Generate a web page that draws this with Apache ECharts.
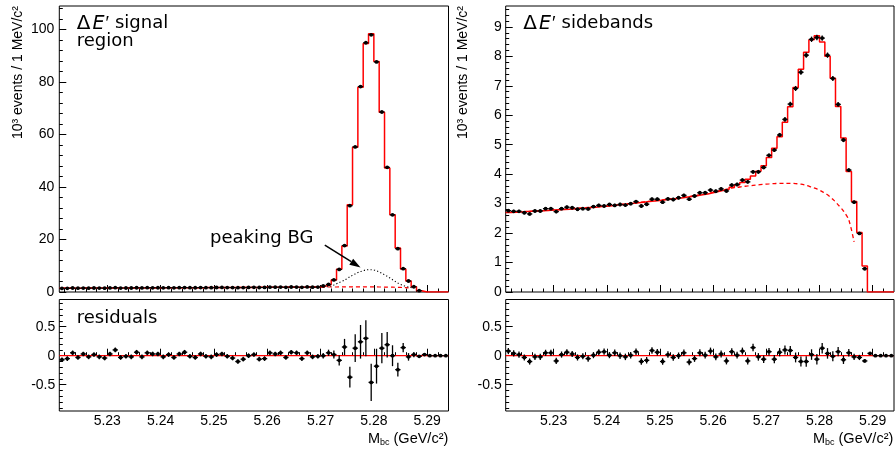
<!DOCTYPE html>
<html><head><meta charset="utf-8">
<script src="https://cdn.jsdelivr.net/npm/echarts@6.0.0/dist/echarts.min.js"></script>
<style>html,body{margin:0;padding:0;background:#fff}#c{width:895px;height:449px}</style>
</head><body><div id="c"></div>
<script>
// ---------------- data (10^3 events per 1 MeV bin) ----------------
const binLow = 5.221, binWidth = 0.001, nBins = 73;
const xTickValues = [5.23, 5.24, 5.25, 5.26, 5.27, 5.28, 5.29];
const sigYTicks = [0, 20, 40, 60, 80, 100];
const sbYTicks = [0, 1, 2, 3, 4, 5, 6, 7, 8, 9];
const resYTicks = [-0.5, 0, 0.5];

// ΔE' signal region
const sigData = [1.38,1.41,1.52,1.44,1.51,1.47,1.52,1.48,1.47,1.55,
  1.63,1.51,1.53,1.53,1.62,1.55,1.63,1.61,1.62,1.58,
  1.63,1.59,1.65,1.69,1.63,1.62,1.69,1.66,1.66,1.71,
  1.73,1.70,1.68,1.64,1.68,1.75,1.79,1.71,1.73,1.85,
  1.84,1.87,1.79,1.91,1.89,1.80,1.92,1.85,1.88,2.30,
  2.90,4.60,8.60,17.7,32.9,55.3,78.3,95.0,98.0,87.7,
  68.6,47.5,29.4,16.5,8.9,4.2,2.0,0.5,null,null,
  null,null,null];
const sigErr = [0.04,0.04,0.04,0.04,0.04,0.04,0.04,0.04,0.04,0.04,
  0.04,0.04,0.04,0.04,0.04,0.04,0.04,0.04,0.04,0.04,
  0.04,0.04,0.04,0.04,0.04,0.04,0.04,0.04,0.04,0.04,
  0.04,0.04,0.04,0.04,0.04,0.04,0.04,0.04,0.04,0.04,
  0.04,0.04,0.04,0.04,0.04,0.04,0.04,0.04,0.04,0.048,
  0.054,0.068,0.09,0.14,0.18,0.24,0.29,0.31,0.32,0.30,
  0.26,0.22,0.18,0.12,0.08,0.065,0.045,0.022,0,0,
  0,0,0];
const sigFit = [1.45,1.46,1.47,1.47,1.48,1.49,1.50,1.50,1.51,1.52,
  1.53,1.54,1.54,1.55,1.56,1.57,1.58,1.58,1.59,1.60,
  1.61,1.62,1.62,1.63,1.64,1.65,1.66,1.67,1.68,1.69,
  1.70,1.71,1.72,1.73,1.74,1.75,1.76,1.77,1.78,1.79,
  1.80,1.81,1.82,1.83,1.84,1.85,1.86,1.87,1.88,2.29,
  2.84,4.57,8.67,17.54,33.26,55.16,78.05,94.70,98.46,87.88,
  68.46,47.29,29.40,16.73,8.74,4.22,1.98,0.51,0,0,
  0,0,0];
const sigBkg = [1.45,1.46,1.47,1.47,1.48,1.49,1.50,1.50,1.51,1.52,
  1.53,1.54,1.54,1.55,1.56,1.57,1.58,1.58,1.59,1.60,
  1.61,1.62,1.62,1.63,1.64,1.65,1.66,1.67,1.68,1.69,
  1.70,1.71,1.72,1.73,1.74,1.75,1.76,1.77,1.78,1.79,
  1.80,1.81,1.82,1.83,1.84,1.85,1.86,1.87,1.88,1.89,
  1.90,1.91,1.92,1.93,1.93,1.94,1.94,1.94,1.93,1.92,
  1.90,1.87,1.83,1.77,1.70,1.60];
const sigPeakingFirstBin = 49;
const sigPeakingBG = [1.9,2.1,2.7,3.6,4.5,5.8,6.9,7.8,8.4,8.5,8.1,7.1,6.0,4.7,3.4,2.5,1.9,1.5];
const sigResid = [-0.07,-0.05,0.05,-0.03,0.03,-0.02,0.02,-0.02,-0.04,0.03,
  0.10,-0.03,-0.01,-0.02,0.06,-0.02,0.05,0.03,0.03,-0.02,
  0.02,-0.03,0.03,0.06,-0.01,-0.03,0.03,-0.01,-0.02,0.02,
  0.03,-0.01,-0.04,-0.10,-0.06,0.00,0.02,-0.06,-0.05,0.05,
  0.03,0.05,-0.03,0.06,0.05,-0.05,0.05,-0.02,-0.01,0.00,
  0.05,0.02,-0.08,0.15,-0.37,0.13,0.24,0.30,-0.46,-0.18,
  0.13,0.19,0.00,-0.24,0.14,-0.02,0.02,-0.01,0.02,0.00,
  0.00,0.00,0.00];

// ΔE' sidebands
const sbData = [2.76,2.74,2.74,2.69,2.65,2.75,2.75,2.83,2.83,2.73,
  2.83,2.88,2.86,2.81,2.83,2.82,2.90,2.94,2.92,2.97,
  2.94,2.97,2.95,3.00,3.07,2.92,2.98,3.15,3.15,3.05,
  3.16,3.14,3.20,3.28,3.15,3.26,3.37,3.37,3.46,3.42,
  3.50,3.43,3.63,3.65,3.80,3.74,4.08,4.08,4.23,4.64,
  4.82,5.33,5.86,6.38,6.91,7.46,8.04,8.58,8.64,8.62,
  8.04,7.25,6.37,5.16,4.14,3.05,1.99,0.79,null,null,
  null,null,null];
const sbErr = [0.053,0.053,0.053,0.053,0.053,0.053,0.053,0.053,0.053,0.053,
  0.053,0.053,0.053,0.053,0.053,0.053,0.053,0.053,0.053,0.053,
  0.056,0.056,0.056,0.056,0.056,0.056,0.056,0.056,0.056,0.056,
  0.056,0.056,0.056,0.056,0.056,0.056,0.06,0.06,0.06,0.06,
  0.06,0.06,0.06,0.06,0.06,0.06,0.065,0.065,0.065,0.065,
  0.071,0.071,0.078,0.078,0.085,0.085,0.091,0.091,0.091,0.091,
  0.091,0.085,0.08,0.072,0.064,0.055,0.045,0.028,0,0,
  0,0,0];
const sbFit = [2.70,2.71,2.72,2.73,2.74,2.75,2.76,2.77,2.78,2.79,
  2.80,2.81,2.83,2.84,2.85,2.87,2.88,2.90,2.91,2.93,
  2.95,2.97,2.99,3.01,3.03,3.05,3.07,3.09,3.11,3.13,
  3.15,3.17,3.19,3.22,3.24,3.27,3.30,3.33,3.37,3.41,
  3.45,3.49,3.56,3.64,3.72,3.83,3.94,4.10,4.29,4.57,
  4.88,5.27,5.76,6.29,6.94,7.56,8.14,8.56,8.70,8.49,
  8.00,7.26,6.30,5.23,4.09,3.07,2.02,0.88,0,0,
  0,0,0];
const sbBkg = [2.70,2.71,2.72,2.73,2.74,2.75,2.76,2.77,2.78,2.79,
  2.80,2.81,2.83,2.84,2.85,2.87,2.88,2.90,2.91,2.93,
  2.95,2.97,2.99,3.01,3.03,3.05,3.07,3.09,3.11,3.13,
  3.15,3.17,3.19,3.22,3.24,3.27,3.30,3.33,3.37,3.41,
  3.45,3.49,3.53,3.55,3.58,3.60,3.62,3.64,3.66,3.67,
  3.68,3.69,3.69,3.69,3.68,3.66,3.62,3.56,3.50,3.41,
  3.30,3.15,2.96,2.75,2.45,1.70];
const sbResid = [0.08,0.04,0.02,-0.03,-0.10,-0.02,-0.02,0.05,0.05,-0.09,
  0.02,0.06,0.03,-0.03,-0.01,-0.05,0.01,0.06,0.07,0.01,
  0.05,0.00,-0.02,0.01,0.07,-0.10,-0.08,0.09,0.06,-0.10,
  0.02,-0.03,0.00,0.05,-0.11,-0.05,0.05,0.01,0.08,-0.02,
  0.03,-0.09,0.07,0.01,0.08,-0.09,0.14,-0.02,-0.06,0.07,
  -0.06,0.06,0.10,0.09,-0.03,-0.10,-0.10,0.02,-0.06,0.13,
  0.04,-0.01,0.07,-0.07,0.05,-0.02,-0.03,-0.09,0.04,0.00,
  0.00,0.00,0.00];

// ---------------- helpers ----------------
const FONT = '"Liberation Sans", Arial, sans-serif';
const X_MIN = binLow, X_MAX = +(binLow + nBins * binWidth).toFixed(4);
const centers = Array.from({length: nBins}, (_, i) => +(binLow + (i + 0.5) * binWidth).toFixed(4));
const edges = Array.from({length: nBins + 1}, (_, i) => +(binLow + i * binWidth).toFixed(4));

const xMinor = []; for (let k = 5222; k < 5294; k += 2) if (k % 10) xMinor.push(k / 1000);
const sigYMinor = []; for (let v = 4; v < 109; v += 4) if (v % 20) sigYMinor.push(v);
const sbYMinor = []; for (let k = 1; k < 49; k++) if (k % 5) sbYMinor.push(k / 5);
const resYMinor = []; for (let k = -9; k <= 9; k++) if (k % 5) resYMinor.push(k / 10);

const grids = [
  {left: 59.3, top: 6, width: 389.2, height: 286},
  {left: 505.7, top: 6, width: 388.3, height: 286},
  {left: 59.3, top: 299.5, width: 389.2, height: 111.5},
  {left: 505.7, top: 299.5, width: 388.3, height: 111.5}
].map(g => Object.assign(g, {show: true, borderColor: '#000', borderWidth: 1, backgroundColor: 'transparent', containLabel: false, outerBoundsMode: 'none'}));

function xAxisMain(g, showLabel) {
  return {gridIndex: g, type: 'value', min: X_MIN, max: X_MAX, position: 'bottom',
    axisLine: {show: false}, splitLine: {show: false},
    axisTick: {show: true, inside: true, length: 7, customValues: xTickValues, lineStyle: {color: '#000', width: 1}},
    axisLabel: {show: showLabel, customValues: xTickValues, margin: 3, fontSize: 14, fontFamily: FONT, color: '#000',
      formatter: v => v.toFixed(2)}};
}
function xAxisMinor(g) {
  return {gridIndex: g, type: 'value', min: X_MIN, max: X_MAX, position: 'bottom',
    axisLine: {show: false}, splitLine: {show: false},
    axisTick: {show: true, inside: true, length: 3.5, customValues: xMinor, lineStyle: {color: '#000', width: 1}},
    axisLabel: {show: false, customValues: xMinor}};
}
function yAxisMain(g, min, max, ticks, margin) {
  return {gridIndex: g, type: 'value', min, max, position: 'left',
    axisLine: {show: false}, splitLine: {show: false},
    axisTick: {show: true, inside: true, length: 7, customValues: ticks, lineStyle: {color: '#000', width: 1}},
    axisLabel: {show: true, customValues: ticks, margin, fontSize: 14, fontFamily: FONT, color: '#000',
      formatter: v => String(v)}};
}
function yAxisMinor(g, min, max, ticks) {
  return {gridIndex: g, type: 'value', min, max, position: 'left',
    axisLine: {show: false}, splitLine: {show: false},
    axisTick: {show: true, inside: true, length: 3.5, customValues: ticks, lineStyle: {color: '#000', width: 1}},
    axisLabel: {show: false, customValues: ticks}};
}

function pointSeries(ax, vals, errs) {
  const data = [];
  vals.forEach((v, i) => { if (v !== null) data.push([centers[i], v, errs[i]]); });
  return {type: 'custom', xAxisIndex: ax, yAxisIndex: ax, data, z: 6, clip: false,
    renderItem(params, api) {
      const x = api.value(0), y = api.value(1), e = api.value(2);
      const c = api.coord([x, y]);
      const t = api.coord([x, y + e]), b = api.coord([x, y - e]);
      const l = api.coord([x - binWidth / 2, y]), r = api.coord([x + binWidth / 2, y]);
      const st = {stroke: '#000', lineWidth: 1.3};
      return {type: 'group', children: [
        {type: 'line', shape: {x1: c[0], y1: t[1], x2: c[0], y2: b[1]}, style: st},
        {type: 'line', shape: {x1: l[0], y1: c[1], x2: r[0], y2: c[1]}, style: st},
        {type: 'circle', shape: {cx: c[0], cy: c[1], r: 1.9}, style: {fill: '#000'}}
      ]};
    }};
}
function stepSeries(ax, vals) {
  const data = vals.map((v, i) => [edges[i], v]);
  data.push([edges[nBins], vals[nBins - 1]]);
  return {type: 'line', xAxisIndex: ax, yAxisIndex: ax, data, step: 'end', symbol: 'none', z: 4,
    lineStyle: {color: '#ff0000', width: 1.5}, animation: false};
}
function curveSeries(ax, vals, firstBin, style) {
  const data = vals.map((v, i) => [centers[firstBin + i], v]);
  return {type: 'line', xAxisIndex: ax, yAxisIndex: ax, data, symbol: 'none', smooth: 0.3, z: 3,
    lineStyle: style, animation: false};
}
function zeroLine(ax) {
  return {type: 'line', xAxisIndex: ax, yAxisIndex: ax, data: [[X_MIN, 0], [X_MAX, 0]], symbol: 'none', z: 3,
    lineStyle: {color: '#ff0000', width: 1.2}, animation: false};
}

const option = {
  animation: false,
  grid: grids,
  xAxis: [xAxisMain(0, false), xAxisMain(1, false), xAxisMain(2, true), xAxisMain(3, true),
          xAxisMinor(0), xAxisMinor(1), xAxisMinor(2), xAxisMinor(3)],
  yAxis: [yAxisMain(0, 0, 109, sigYTicks, 5), yAxisMain(1, 0, 9.71, sbYTicks, 4),
          yAxisMain(2, -0.953, 0.969, resYTicks, 4), yAxisMain(3, -0.953, 0.969, resYTicks, 4),
          yAxisMinor(0, 0, 109, sigYMinor), yAxisMinor(1, 0, 9.71, sbYMinor),
          yAxisMinor(2, -0.953, 0.969, resYMinor), yAxisMinor(3, -0.953, 0.969, resYMinor)],
  series: [
    curveSeries(0, sigBkg, 0, {color: '#ff0000', width: 1.2, type: [4, 3]}),
    curveSeries(0, sigPeakingBG, sigPeakingFirstBin, {color: '#000', width: 1.1, type: [1.2, 2.2]}),
    stepSeries(0, sigFit),
    pointSeries(0, sigData, sigErr),
    curveSeries(1, sbBkg, 0, {color: '#ff0000', width: 1.3, type: [4, 3]}),
    stepSeries(1, sbFit),
    pointSeries(1, sbData, sbErr),
    zeroLine(2),
    pointSeries(2, sigResid, sigErr),
    zeroLine(3),
    pointSeries(3, sbResid, sbErr)
  ]
};

const chart = echarts.init(document.getElementById('c'), null, {renderer: 'canvas'});
chart.setOption(option);

// ---------------- text & annotation ----------------
const TFONT = '"DejaVu Sans", sans-serif';
const titleRich = {
  d: {fontSize: 20, fontFamily: TFONT, lineHeight: 17.5, padding: [0, 2, 0, 0]},
  e: {fontSize: 19, fontFamily: TFONT, fontStyle: 'italic', lineHeight: 17.5, padding: [0, 1, 0, 0]},
  p: {fontSize: 19, fontFamily: FONT, lineHeight: 17.5, padding: [0, 6, 0, 0]}
};
function txt(x, y, text, extra) {
  return {type: 'text', x, y, z: 50, style: Object.assign({text, fill: '#000', fontSize: 18, fontFamily: TFONT,
    align: 'left', verticalAlign: 'top', lineHeight: 17.5}, extra || {})};
}
const xTitleRich = {
  a: {fontSize: 14.5, fontFamily: FONT, lineHeight: 16},
  s: {fontSize: 9, fontFamily: FONT, lineHeight: 9, verticalAlign: 'bottom'}
};
const tail = chart.convertToPixel({xAxisIndex: 0, yAxisIndex: 0}, [5.2708, 17.9]);
const head = chart.convertToPixel({xAxisIndex: 0, yAxisIndex: 0}, [5.2775, 9.3]);
const dx = head[0] - tail[0], dy = head[1] - tail[1], len = Math.hypot(dx, dy);
const ux = dx / len, uy = dy / len, hl = 11, hw = 3.6;
const bx = head[0] - ux * hl, by = head[1] - uy * hl;

const graphics = [
  txt(76.7, 15, '{d|Δ}{e|E}{p|′}signal\nregion', {rich: titleRich}),
  txt(523.3, 15, '{d|Δ}{e|E}{p|′}sidebands', {rich: titleRich}),
  txt(76.7, 309.4, 'residuals'),
  txt(210, 229.4, 'peaking BG'),
  {type: 'text', x: 18, y: 6, rotation: Math.PI / 2, z: 50,
    style: {text: '10³ events / 1 MeV/c²', fill: '#000', fontSize: 14, fontFamily: FONT, align: 'right', verticalAlign: 'middle'}},
  {type: 'text', x: 463.5, y: 6, rotation: Math.PI / 2, z: 50,
    style: {text: '10³ events / 1 MeV/c²', fill: '#000', fontSize: 14, fontFamily: FONT, align: 'right', verticalAlign: 'middle'}},
  {type: 'text', x: 448.3, y: 439.3, z: 50,
    style: {text: '{a|M}{s|bc}{a| (GeV/c²)}', rich: xTitleRich, fill: '#000', align: 'right', verticalAlign: 'middle'}},
  {type: 'text', x: 893.3, y: 439.3, z: 50,
    style: {text: '{a|M}{s|bc}{a| (GeV/c²)}', rich: xTitleRich, fill: '#000', align: 'right', verticalAlign: 'middle'}},
  {type: 'line', z: 50, shape: {x1: tail[0], y1: tail[1], x2: bx, y2: by}, style: {stroke: '#000', lineWidth: 1.5}},
  {type: 'polygon', z: 50, shape: {points: [[head[0], head[1]], [bx - uy * hw, by + ux * hw], [bx + uy * hw, by - ux * hw]]},
    style: {fill: '#000'}}
];
chart.setOption({graphic: graphics});
</script>
</body></html>
